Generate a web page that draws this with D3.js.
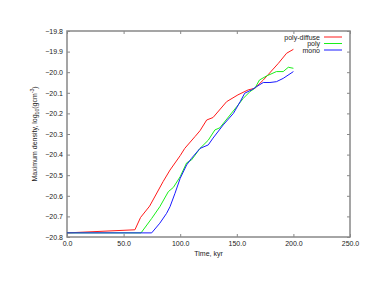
<!DOCTYPE html>
<html>
<head>
<meta charset="utf-8">
<script src="https://cdn.jsdelivr.net/npm/d3@7"></script>
<style>
  body { margin: 0; background: #fff; }
  svg text { font-family: "Liberation Sans", Arial, sans-serif; fill: #222; }
</style>
</head>
<body>
<div id="chart"></div>
<script>
// time (kyr) and log10 max density for each run
const polyDiffuseT = [0, 60, 65, 73, 85, 91, 100, 104, 113, 117.5, 123.4, 129, 141, 151, 160, 166, 173.4, 186.7, 194, 200];
const polyDiffuseV = [-20.78, -20.765, -20.705, -20.65, -20.53, -20.475, -20.405, -20.37, -20.313, -20.284, -20.232, -20.22, -20.143, -20.11, -20.086, -20.078, -20.038, -19.957, -19.908, -19.889];

const polyT = [0, 65.4, 74.8, 82, 89.5, 94, 100, 105.7, 110, 117.5, 124.8, 130.7, 135, 144, 150, 155.7, 161.7, 166, 170, 176.4, 185, 191, 195.5, 200];
const polyV = [-20.78, -20.78, -20.71, -20.653, -20.58, -20.559, -20.507, -20.44, -20.426, -20.37, -20.33, -20.28, -20.27, -20.208, -20.167, -20.127, -20.094, -20.078, -20.038, -20.018, -19.997, -19.997, -19.976, -19.981];

const monoT = [0, 74.8, 82, 88, 91, 95.4, 100, 105.7, 110, 117.5, 124.8, 129, 138, 147, 153, 157, 163, 167.5, 173.4, 179.3, 185, 191, 200];
const monoV = [-20.78, -20.78, -20.733, -20.685, -20.653, -20.588, -20.515, -20.45, -20.418, -20.37, -20.353, -20.32, -20.256, -20.2, -20.143, -20.102, -20.086, -20.07, -20.05, -20.05, -20.046, -20.03, -19.997];

const seriesNames = ['poly-diffuse', 'poly', 'mono'];
const seriesColors = ['#ff1a1a', '#1aee1a', '#1a1aff'];
const xTicks = [0, 50, 100, 150, 200, 250];
const yTicks = [-19.8, -19.9, -20.0, -20.1, -20.2, -20.3, -20.4, -20.5, -20.6, -20.7, -20.8];

const width = 370, height = 286;
const margin = { top: 31, right: 20, bottom: 49, left: 67 };
const innerW = width - margin.left - margin.right;
const innerH = height - margin.top - margin.bottom;

const svg = d3.select('#chart').append('svg')
  .attr('width', width)
  .attr('height', height);

const g = svg.append('g')
  .attr('transform', `translate(${margin.left},${margin.top})`);

const x = d3.scaleLinear().domain([0, 250]).range([0, innerW]);
const y = d3.scaleLinear().domain([-20.8, -19.8]).range([innerH, 0]);

const frameColor = '#888';

// axes, ticks pointing inward, mirrored on top and right
g.append('g')
  .attr('transform', `translate(0,${innerH})`)
  .call(d3.axisBottom(x).tickValues(xTicks).tickFormat(d3.format('.1f')).tickSizeInner(-3).tickSizeOuter(0).tickPadding(4))
  .call(a => a.selectAll('text').attr('font-size', 7));

g.append('g')
  .call(d3.axisLeft(y).tickValues(yTicks).tickFormat(d3.format('.1f')).tickSizeInner(-3).tickSizeOuter(0).tickPadding(4))
  .call(a => a.selectAll('text').attr('font-size', 7));

g.append('g')
  .call(d3.axisTop(x).tickValues(xTicks).tickFormat('').tickSizeInner(-3).tickSizeOuter(0));

g.append('g')
  .attr('transform', `translate(${innerW},0)`)
  .call(d3.axisRight(y).tickValues(yTicks).tickFormat('').tickSizeInner(-3).tickSizeOuter(0));

g.selectAll('.domain').remove();
g.selectAll('.tick line').attr('stroke', frameColor);

g.append('rect')
  .attr('width', innerW)
  .attr('height', innerH)
  .attr('fill', 'none')
  .attr('stroke', frameColor)
  .attr('stroke-width', 1.5);

const line = d3.line()
  .x(d => x(d[0]))
  .y(d => y(d[1]));

const allSeries = [
  d3.zip(polyDiffuseT, polyDiffuseV),
  d3.zip(polyT, polyV),
  d3.zip(monoT, monoV)
];

allSeries.forEach((pts, i) => {
  g.append('path')
    .datum(pts)
    .attr('fill', 'none')
    .attr('stroke', seriesColors[i])
    .attr('stroke-width', 1)
    .attr('d', line);
});

// legend
const legend = g.append('g').attr('transform', `translate(${innerW - 30},6)`);
seriesNames.forEach((name, i) => {
  const row = legend.append('g').attr('transform', `translate(0,${i * 6.5})`);
  row.append('text')
    .attr('x', 0)
    .attr('y', 2.5)
    .attr('text-anchor', 'end')
    .attr('font-size', 7)
    .text(name);
  row.append('line')
    .attr('x1', 4).attr('x2', 22)
    .attr('stroke', seriesColors[i])
    .attr('stroke-width', 1);
});

// axis titles
svg.append('text')
  .attr('x', margin.left + innerW / 2)
  .attr('y', 256)
  .attr('text-anchor', 'middle')
  .attr('font-size', 7)
  .text('Time, kyr');

const yTitle = svg.append('text')
  .attr('transform', `translate(37,${margin.top + innerH / 2}) rotate(-90)`)
  .attr('text-anchor', 'middle')
  .attr('font-size', 7);
yTitle.append('tspan').text('Maximum density, log');
yTitle.append('tspan').attr('font-size', 5).attr('dy', 2).text('10');
yTitle.append('tspan').attr('dy', -2).text('(gcm');
yTitle.append('tspan').attr('font-size', 5).attr('dy', -3).text('-3');
yTitle.append('tspan').attr('dy', 3).text(')');
</script>
</body>
</html>
